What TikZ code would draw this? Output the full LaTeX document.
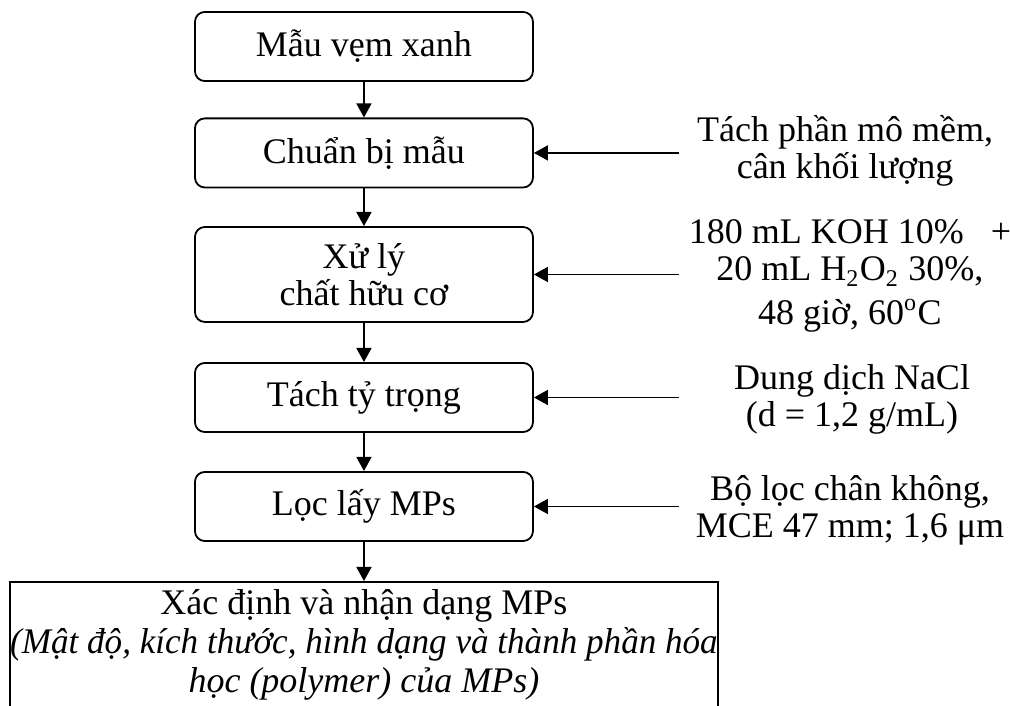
\documentclass[tikz,border=0pt]{standalone}
\usepackage{fontspec}
\setmainfont{Liberation Serif}
\usetikzlibrary{arrows.meta}

\tikzset{
  stepbox/.style={draw, rounded corners=3.3pt, line width=0.6pt, minimum width=3.96cm,
    minimum height=0.81cm, inner sep=0pt, align=center},
  resultbox/.style={draw, line width=0.6pt, minimum width=8.295cm, minimum height=1.476cm,
    inner sep=0pt, align=center, font=\fontsize{12}{13}\selectfont},
  flow/.style={-{Triangle[length=4.7pt,width=5pt]}, line width=0.6pt},
  note/.style={align=center}
}

\begin{document}
\begin{tikzpicture}[font=\fontsize{12}{12.4}\selectfont]
\useasboundingbox (0,0) rectangle (11.833,8.271);

% Steps
\node[stepbox] (mau) at (4.264,7.726) {Mẫu vẹm xanh};
\node[stepbox] (chuanbi) at (4.264,6.479) {Chuẩn bị mẫu};
\node[stepbox, minimum height=1.113cm] (xuly) at (4.264,5.055) {Xử lý\\chất hữu cơ};
\node[stepbox] (tach) at (4.264,3.614) {Tách tỷ trọng};
\node[stepbox] (loc) at (4.264,2.337) {Lọc lấy MPs};

% Result
\node[resultbox] (kq) at (4.264,0.715) {Xác định và nhận dạng MPs\\
  \scalebox{0.975}[1]{\textit{(Mật độ, kích thước, hình dạng và thành phần hóa}}\\
  \textit{học (polymer) của MPs)}};

% Conditions
\node[note] (dk1) at (9.900,6.500) {Tách phần mô mềm,\\cân khối lượng};
\node[note] (dk2) at (9.958,5.040) {180 mL KOH 10\%~~~+\\
  20 mL H\textsubscript{2}O\textsubscript{2} 30\%,\\[2pt]48 giờ, 60\textsuperscript{o}C};
\node[note] (dk3) at (9.982,3.590) {Dung dịch NaCl\\(d = 1,2 g/mL)};
\node[note] (dk4) at (9.958,2.290) {Bộ lọc chân không,\\MCE 47 mm; 1,6 μm};

% Arrows down
\foreach \a/\b in {mau/chuanbi, chuanbi/xuly, xuly/tach, tach/loc, loc/kq}
  \draw[flow] (\a) -- (\b);

% Arrows in
\coordinate (rim) at (7.955,0);
\foreach \n/\k in {chuanbi/1, xuly/2, tach/3, loc/4} {
  \coordinate (in\k) at (\n.east -| rim);
  \draw[flow] (in\k) -- (\n.east);
}
\end{tikzpicture}
\end{document}
